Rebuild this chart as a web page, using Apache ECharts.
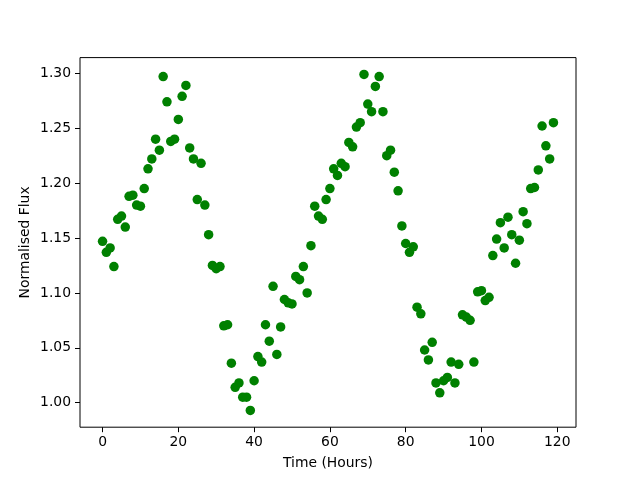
<!DOCTYPE html>
<html>
<head>
<meta charset="utf-8">
<script src="https://cdn.jsdelivr.net/npm/echarts@6/dist/echarts.min.js"></script>
<style>html,body{margin:0;padding:0;background:#fff}#c{width:640px;height:480px}</style>
</head>
<body>
<div id="c"></div>
<script>
const hours = Array.from({length:120},(_, i) => i);
const flux = [
1.147,1.137,1.141,1.124,1.167,1.170,1.160,1.188,1.189,1.180,
1.179,1.195,1.213,1.222,1.240,1.230,1.297,1.274,1.238,1.240,
1.258,1.279,1.289,1.232,1.222,1.185,1.218,1.180,1.153,1.125,
1.122,1.124,1.070,1.071,1.036,1.014,1.018,1.005,1.005,0.993,
1.020,1.042,1.037,1.071,1.056,1.106,1.044,1.069,1.094,1.091,
1.090,1.115,1.112,1.124,1.100,1.143,1.179,1.170,1.167,1.185,
1.195,1.213,1.207,1.218,1.215,1.237,1.233,1.251,1.255,1.299,
1.272,1.265,1.288,1.297,1.265,1.225,1.230,1.210,1.193,1.161,
1.145,1.137,1.142,1.087,1.081,1.048,1.039,1.055,1.018,1.009,
1.020,1.023,1.037,1.018,1.035,1.080,1.078,1.075,1.037,1.101,
1.102,1.093,1.096,1.134,1.149,1.164,1.141,1.169,1.153,1.127,
1.148,1.174,1.163,1.195,1.196,1.212,1.252,1.234,1.222,1.255
];
const xTicks = [0,20,40,60,80,100,120];
const yTicks = [1.00,1.05,1.10,1.15,1.20,1.25,1.30];
const xLabel = 'Time (Hours)';
const yLabel = 'Normalised Flux';

const xMinD = Math.min(...hours), xMaxD = Math.max(...hours);
const yMinD = Math.min(...flux), yMaxD = Math.max(...flux);
const xPad = (xMaxD - xMinD) * 0.05, yPad = (yMaxD - yMinD) * 0.05;

const font = 'DejaVu Sans';
const chart = echarts.init(document.getElementById('c'), null, {renderer:'canvas'});
chart.setOption({
  animation:false,
  grid:{left:80,right:64,top:57.6,bottom:52.8,show:true,borderColor:'#000',borderWidth:1,backgroundColor:'transparent'},
  xAxis:{
    type:'value', min:xMinD - xPad, max:xMaxD + xPad,
    name:xLabel, nameLocation:'middle', nameGap:29, nameMoveOverlap:false,
    nameTextStyle:{fontFamily:font,fontSize:13.9,color:'#000'},
    axisLine:{show:false,onZero:false}, splitLine:{show:false},
    axisTick:{show:true,inside:false,length:5,lineStyle:{color:'#000',width:1},customValues:xTicks},
    axisLabel:{fontFamily:font,fontSize:13.9,color:'#000',margin:8,customValues:xTicks,formatter:v=>String(Math.round(v))}
  },
  yAxis:{
    type:'value', min:yMinD - yPad, max:yMaxD + yPad,
    name:yLabel, nameLocation:'middle', nameGap:48, nameMoveOverlap:false,
    nameTextStyle:{fontFamily:font,fontSize:13.9,color:'#000'},
    axisLine:{show:false,onZero:false}, splitLine:{show:false},
    axisTick:{show:true,inside:false,length:5,lineStyle:{color:'#000',width:1},customValues:yTicks},
    axisLabel:{fontFamily:font,fontSize:13.9,color:'#000',margin:9,customValues:yTicks,formatter:v=>v.toFixed(2)}
  },
  series:[{
    type:'scatter',
    data:hours.map((h,i)=>[h,flux[i]]),
    symbol:'circle', symbolSize:9.5,
    itemStyle:{color:'#008000',opacity:1}
  }]
});
</script>
</body>
</html>
